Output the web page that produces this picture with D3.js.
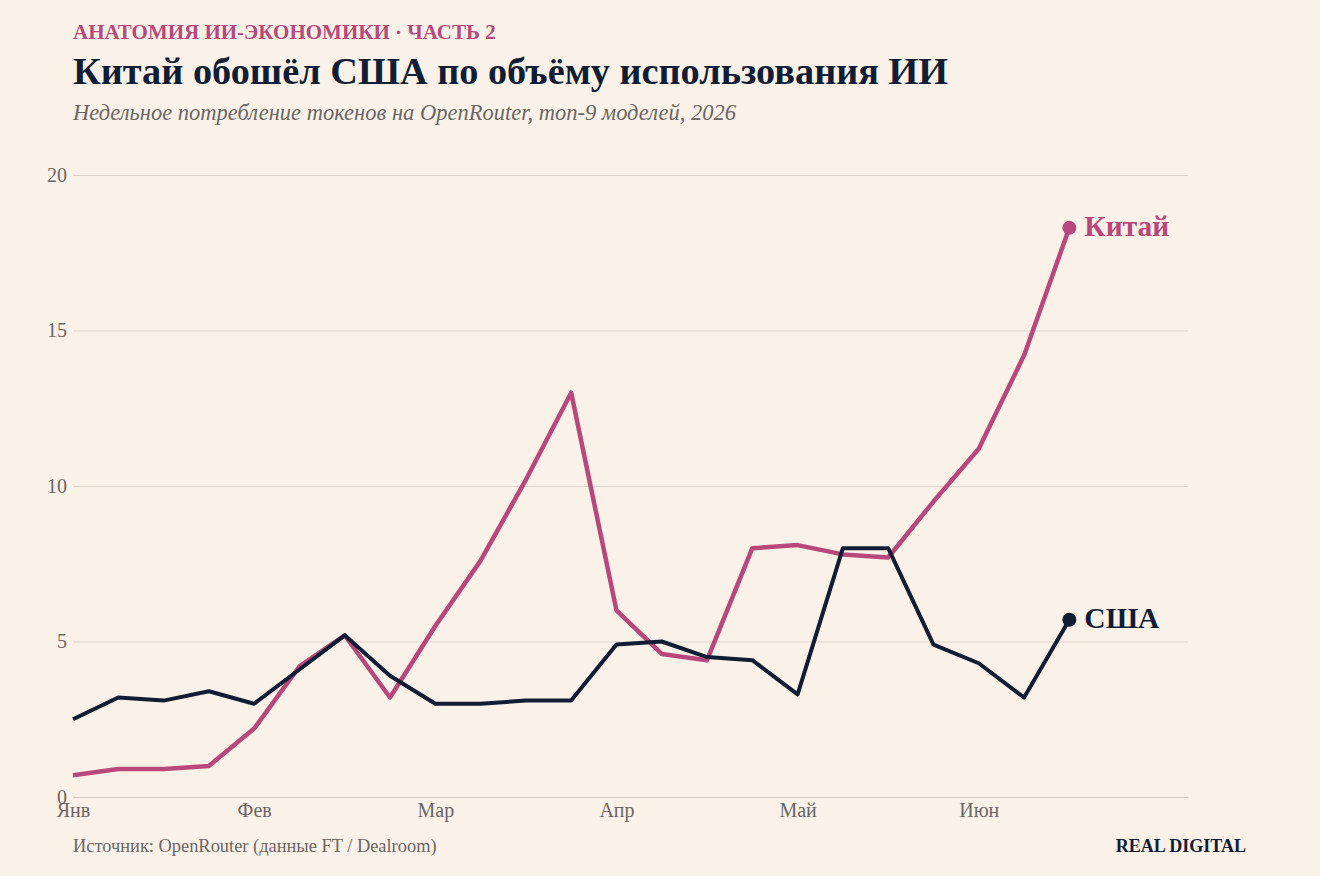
<!DOCTYPE html>
<html>
<head>
<meta charset="utf-8">
<script src="https://cdn.jsdelivr.net/npm/d3@7"></script>
<style>
  html, body { margin: 0; padding: 0; background: #faf2e8; }
  svg { display: block; font-family: "Liberation Serif", "DejaVu Serif", serif; }
</style>
</head>
<body>
<div id="chart"></div>
<script>
// weekly data, 23 weeks from early January
const weeks = d3.range(23);
const chinaValues = [0.7, 0.9, 0.9, 1.0, 2.2, 4.2, 5.2, 3.2, 5.5, 7.6, 10.2, 13.0, 6.0, 4.6, 4.4, 8.0, 8.1, 7.8, 7.7, 9.5, 11.2, 14.2, 18.3];
const usaValues = [2.5, 3.2, 3.1, 3.4, 3.0, 4.1, 5.2, 3.9, 3.0, 3.0, 3.1, 3.1, 4.9, 5.0, 4.5, 4.4, 3.3, 8.0, 8.0, 4.9, 4.3, 3.2, 5.7];
const monthLabels = ["Янв", "Фев", "Мар", "Апр", "Май", "Июн"];
const monthWeeks = [0, 4, 8, 12, 16, 20];
const yTicks = [0, 5, 10, 15, 20];

const pink = "#b8487c";
const navy = "#101d35";
const width = 1320, height = 876;
const margin = { top: 175, right: 132, bottom: 79, left: 73 };

const svg = d3.select("#chart")
    .append("svg")
    .attr("width", width)
    .attr("height", height);

svg.append("rect").attr("width", width).attr("height", height).attr("fill", "#faf2e8");

const x = d3.scaleLinear()
    .domain([0, 24.62])
    .range([margin.left, width - margin.right]);

const y = d3.scaleLinear()
    .domain([0, 20])
    .range([height - margin.bottom, margin.top]);

// header
svg.append("text")
    .attr("x", 73).attr("y", 39)
    .attr("fill", pink)
    .attr("font-size", 21).attr("font-weight", "bold")
    .text("АНАТОМИЯ ИИ-ЭКОНОМИКИ · ЧАСТЬ 2");

svg.append("text")
    .attr("x", 73).attr("y", 84)
    .attr("fill", navy)
    .attr("font-size", 38.3).attr("font-weight", "bold")
    .text("Китай обошёл США по объёму использования ИИ");

svg.append("text")
    .attr("x", 73).attr("y", 120)
    .attr("fill", "#6b6663")
    .attr("font-size", 22.5).attr("font-style", "italic")
    .text("Недельное потребление токенов на OpenRouter, топ-9 моделей, 2026");

// y axis (gridlines + labels)
const yAxis = svg.append("g")
    .attr("transform", `translate(${margin.left},0)`)
    .call(d3.axisLeft(y).tickValues(yTicks).tickSize(-(width - margin.left - margin.right)).tickPadding(6));
yAxis.select(".domain").remove();
yAxis.selectAll(".tick line").attr("stroke", "#ddd5cd").attr("stroke-width", 1);
yAxis.selectAll(".tick text")
    .attr("fill", "#6b6663")
    .attr("font-size", 20)
    .attr("font-family", "Liberation Serif, serif");

// x axis
const xAxis = svg.append("g")
    .attr("transform", `translate(0,${height - margin.bottom})`)
    .call(d3.axisBottom(x).tickValues(monthWeeks).tickFormat((d, i) => monthLabels[i]).tickSize(0).tickPadding(6));
xAxis.select(".domain").attr("stroke", "#cfc8c1");
xAxis.selectAll(".tick text")
    .attr("fill", "#6b6663")
    .attr("font-size", 20)
    .attr("font-family", "Liberation Serif, serif");

// lines
const series = [
    { name: "Китай", values: chinaValues, color: pink, width: 4.5 },
    { name: "США", values: usaValues, color: navy, width: 4 }
];

const line = d3.line()
    .x((d, i) => x(weeks[i]))
    .y(d => y(d));

series.forEach(s => {
    svg.append("path")
        .datum(s.values)
        .attr("d", line)
        .attr("fill", "none")
        .attr("stroke", s.color)
        .attr("stroke-width", s.width)
        .attr("stroke-linejoin", "round");

    const last = s.values.length - 1;
    svg.append("circle")
        .attr("cx", x(weeks[last]))
        .attr("cy", y(s.values[last]))
        .attr("r", 7)
        .attr("fill", s.color);

    svg.append("text")
        .attr("x", x(weeks[last]) + 15)
        .attr("y", y(s.values[last]) + 8)
        .attr("fill", s.color)
        .attr("font-size", 29.5).attr("font-weight", "bold")
        .text(s.name);
});

// footer
svg.append("text")
    .attr("x", 73).attr("y", 852)
    .attr("fill", "#6b6663")
    .attr("font-size", 18.4)
    .text("Источник: OpenRouter (данные FT / Dealroom)");

svg.append("text")
    .attr("x", 1246).attr("y", 852)
    .attr("text-anchor", "end")
    .attr("fill", navy)
    .attr("font-size", 18).attr("font-weight", "bold")
    .text("REAL DIGITAL");
</script>
</body>
</html>
